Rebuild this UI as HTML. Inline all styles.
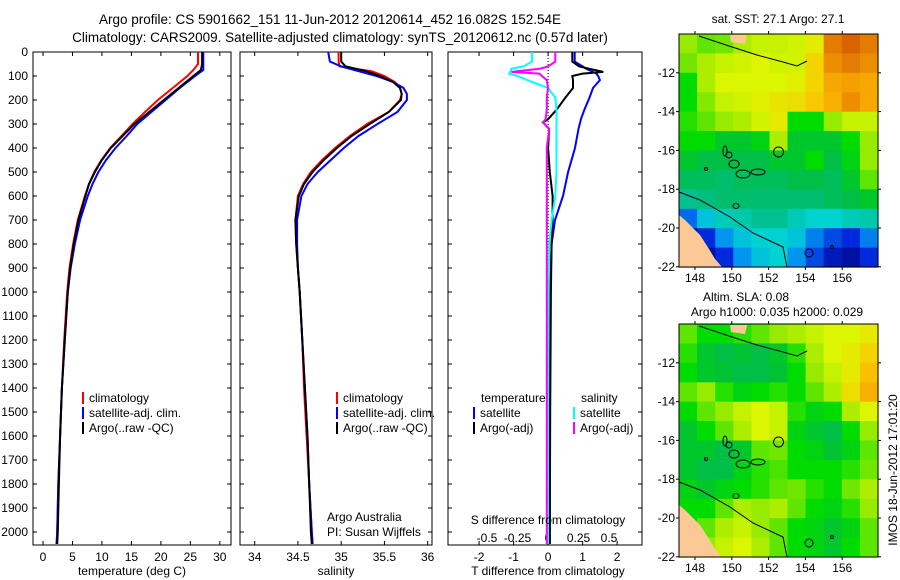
<!DOCTYPE html>
<html><head><meta charset="utf-8"><style>
body{margin:0;background:#fff}
svg{display:block;font-family:"Liberation Sans",sans-serif}
</style></head><body>
<svg id="s" width="900" height="580" viewBox="0 0 900 580" xmlns="http://www.w3.org/2000/svg">
<text x="330" y="24" font-size="13.5" text-anchor="middle">Argo profile: CS 5901662_151 11-Jun-2012 20120614_452 16.082S 152.54E</text>
<text x="340" y="42" font-size="13.5" text-anchor="middle">Climatology: CARS2009. Satellite-adjusted climatology: synTS_20120612.nc (0.57d later)</text>
<text x="778" y="23" font-size="12" text-anchor="middle">sat. SST: 27.1 Argo: 27.1</text>
<text x="746" y="301" font-size="12" text-anchor="middle">Altim. SLA: 0.08</text>
<text x="777" y="316" font-size="12" text-anchor="middle">Argo h1000: 0.035 h2000: 0.029</text>
<text transform="translate(897,470) rotate(-90)" font-size="12" text-anchor="middle">IMOS 18-Jun-2012 17:01:20</text>
<g id="g"></g>
</svg>
<script>
// ---- data ----
const depthT = [0,50,75,100,150,200,250,300,350,400,450,500,550,600,700,800,900,1000,1200,1400,1600,1800,2000,2050];
const argoT = [27,27,26.8,25.5,23,20.5,18,15.5,13.5,11.5,10,8.8,7.8,7.2,6.0,5.2,4.6,4.2,3.7,3.2,2.9,2.7,2.5,2.4];
const climT = [26.3,26.3,25.5,24.5,22,19.5,17.3,15.2,13.3,11.4,9.9,8.7,7.8,7.1,5.9,5.1,4.5,4.1,3.6,3.2,2.9,2.6,2.4,2.3];
const satT = [27.2,27.2,27.2,25.8,23.2,20.8,18.4,16,14.2,12.3,10.7,9.4,8.4,7.6,6.3,5.4,4.7,4.2,3.7,3.2,2.9,2.6,2.4,2.3];
const depthS = [0,40,60,80,100,125,150,175,200,250,300,350,400,450,500,550,600,700,800,900,1000,1200,1400,1600,1800,2000,2050];
const argoS = [35.0,35.0,35.05,35.29,35.45,35.6,35.68,35.7,35.69,35.55,35.33,35.12,34.95,34.8,34.67,34.57,34.51,34.47,34.48,34.5,34.52,34.55,34.58,34.61,34.63,34.65,34.66];
const climS = [34.97,34.97,34.98,35.35,35.5,35.62,35.68,35.7,35.68,35.55,35.3,35.1,34.93,34.78,34.65,34.56,34.5,34.47,34.48,34.5,34.52,34.55,34.57,34.6,34.63,34.66,34.67];
const satS = [34.85,34.87,35.0,35.2,35.41,35.6,35.72,35.76,35.76,35.65,35.42,35.2,35.03,34.88,34.73,34.61,34.54,34.49,34.49,34.5,34.52,34.55,34.58,34.61,34.63,34.66,34.67];
const depthD = [0,40,60,70,83,90,100,117,150,190,240,280,293,320,400,500,600,700,800,1000,1500,2050];
const satTd = [0.77,0.77,1.0,1.1,1.3,1.4,1.45,1.5,1.3,1.2,1.05,0.95,0.93,0.88,0.78,0.58,0.43,0.2,0.1,0.06,0.05,0.05];
const argoTd = [0.7,0.7,0.9,1.2,1.6,1.0,0.7,0.72,0.72,0.5,0.25,0.0,-0.15,0.03,0.0,0.05,0.13,0.13,0.1,0.08,0.06,0.05];
const satSd = [-0.13,-0.13,-0.2,-0.3,-0.31,-0.32,-0.25,-0.17,0,0.06,0.07,0.07,0.07,0.07,0.07,0.07,0.06,0.03,0.01,0.005,0.0,0.0];
const argoSd = [0.06,0.06,0.0,-0.07,-0.3,-0.07,-0.05,-0.01,0,-0.01,-0.01,-0.02,-0.04,0.01,-0.01,-0.01,-0.01,-0.01,-0.01,-0.01,-0.01,-0.01];
const depthTicks = [0,100,200,300,400,500,600,700,800,900,1000,1100,1200,1300,1400,1500,1600,1700,1800,1900,2000];
const tTicks = [0,5,10,15,20,25,30];
const sTicks = [34,34.5,35,35.5,36];
const sTickLabels = ["34","34.5","35","35.5","36"];
const dTTicks = [-2,-1,0,1,2];
const dSTicks = [-0.5,-0.25,0,0.25,0.5];
const lonTicks = [148,150,152,154,156];
const latTicks = [-12,-14,-16,-18,-20,-22];
const sstGrid = [
[.58,.55,.56,.6,.62,.62,.63,.66,.88,.92,.88],
[.56,.6,.62,.63,.64,.63,.63,.7,.85,.88,.85],
[.5,.6,.64,.64,.64,.64,.65,.7,.8,.82,.8],
[.5,.57,.62,.63,.65,.67,.68,.72,.78,.85,.8],
[.52,.55,.58,.6,.63,.66,.5,.5,.58,.62,.62],
[.5,.5,.45,.45,.48,.6,.45,.45,.45,.5,.58],
[.45,.42,.42,.42,.42,.45,.45,.5,.42,.48,.58],
[.4,.4,.38,.4,.4,.4,.42,.42,.4,.45,.55],
[.35,.36,.38,.38,.38,.38,.38,.38,.4,.42,.45],
[.18,.28,.32,.33,.35,.35,.32,.3,.3,.32,.33],
[.05,.12,.22,.28,.3,.3,.28,.2,.15,.12,.2],
[.02,.05,.12,.22,.28,.3,.22,.15,.08,.05,.12]];
const slaGrid = [
[.55,.5,.5,.52,.55,.58,.6,.62,.64,.64,.66],
[.52,.45,.42,.44,.42,.45,.52,.6,.64,.66,.7],
[.5,.45,.44,.42,.42,.44,.5,.58,.62,.66,.74],
[.55,.58,.52,.48,.5,.52,.5,.55,.6,.68,.78],
[.5,.55,.58,.62,.64,.62,.52,.48,.5,.6,.64],
[.45,.5,.55,.6,.64,.62,.48,.45,.42,.5,.58],
[.45,.45,.42,.45,.55,.56,.5,.48,.44,.48,.55],
[.45,.42,.42,.48,.52,.54,.5,.5,.5,.52,.56],
[.48,.45,.48,.5,.52,.55,.56,.52,.5,.56,.6],
[.5,.5,.55,.6,.58,.6,.55,.5,.48,.52,.58],
[.5,.55,.6,.62,.58,.55,.5,.48,.45,.48,.55],
[.52,.58,.62,.64,.6,.55,.5,.48,.45,.5,.55]];

const NS="http://www.w3.org/2000/svg";
const G=document.getElementById('g');
function mk(tag,attrs,parent){const e=document.createElementNS(NS,tag);for(const k in attrs)e.setAttribute(k,attrs[k]);(parent||G).appendChild(e);return e;}
function txt(x,y,s,anchor,size){const t=mk('text',{x:x,y:y,'font-size':size||12,'text-anchor':anchor||'start'});t.textContent=s;return t;}

const TOP=52, PXD=0.24;
const yD=d=>TOP+d*PXD;
const BOT=545;
const panels=[
 {x0:33,x1:231,v0:-1.7,v1:31.9,name:'temperature-panel'},
 {x0:240,x1:432,v0:33.83,v1:36.05,name:'salinity-panel'},
 {x0:448,x1:642,v0:-2.9,v1:2.72,name:'difference-panel'}];
function sx(p,v){return p.x0+(v-p.v0)/(p.v1-p.v0)*(p.x1-p.x0);}
const sS0=548, sSk=122; // secondary S-diff axis
const xSd=v=>sS0+v*sSk;

panels.forEach((p,i)=>{
 const r=mk('rect',{x:p.x0,y:TOP,width:p.x1-p.x0,height:BOT-TOP,fill:'none',stroke:'#000','stroke-width':1});
 
 
 depthTicks.forEach(d=>{
  mk('line',{x1:p.x0,x2:p.x0+4,y1:yD(d),y2:yD(d),stroke:'#000'});
  mk('line',{x1:p.x1-4,x2:p.x1,y1:yD(d),y2:yD(d),stroke:'#000'});
 });
});
depthTicks.forEach(d=>{const t=txt(28,yD(d)+4,String(d),'end',12);
 
 });
function xticks(p,vals,labels,fx){vals.forEach((v,i)=>{const x=fx(v);
 mk('line',{x1:x,x2:x,y1:BOT-4,y2:BOT,stroke:'#000'});
 mk('line',{x1:x,x2:x,y1:TOP,y2:TOP+4,stroke:'#000'});
 const t=txt(x,561,labels[i],'middle',12);
 
 });}
xticks(panels[0],tTicks,tTicks.map(String),v=>sx(panels[0],v));
xticks(panels[1],sTicks,sTickLabels,v=>sx(panels[1],v));
xticks(panels[2],dTTicks,dTTicks.map(String),v=>sx(panels[2],v));
dSTicks.forEach(v=>{const t=txt(xSd(v),542,String(v),'middle',12);
 
 });

mk('line',{x1:sx(panels[2],0),x2:sx(panels[2],0),y1:TOP,y2:BOT,stroke:'#000','stroke-dasharray':'1,2'});

function line(xs,ds,fx,color,name,w){
 const pts=xs.map((v,i)=>fx(v).toFixed(1)+','+yD(ds[i]).toFixed(1)).join(' ');
 const e=mk('polyline',{points:pts,fill:'none',stroke:color,'stroke-width':w||2,'stroke-linejoin':'miter'});
 
 
}
const fT=v=>sx(panels[0],v), fS=v=>sx(panels[1],v), fD=v=>sx(panels[2],v);
line(climT,depthT,fT,'#f00','climatology-temperature-line');
line(satT,depthT,fT,'#00f','satellite-temperature-line');
line(argoT,depthT,fT,'#000','argo-temperature-line');
line(climS,depthS,fS,'#f00','climatology-salinity-line');
line(satS,depthS,fS,'#00f','satellite-salinity-line');
line(argoS,depthS,fS,'#000','argo-salinity-line');
line(satTd,depthD,fD,'#00f','satellite-tdiff-line');
line(argoTd,depthD,fD,'#000','argo-tdiff-line');
line(satSd,depthD,xSd,'#0ff','satellite-sdiff-line');
line(argoSd,depthD,xSd,'#f0f','argo-sdiff-line');

function leg(x,y,c,s,name){mk('rect',{x:x,y:y-10,width:2,height:12,fill:c});
 const t=txt(x+7,y,s,'start',12);
 
 }
leg(82,402,'#f00','climatology','legend-climatology');
leg(82,417,'#00f','satellite-adj. clim.','legend-satellite');
leg(82,432,'#000','Argo(..raw -QC)','legend-argo');
leg(336,402,'#f00','climatology','legend2-climatology');
leg(336,417,'#00f','satellite-adj. clim.','legend2-satellite');
leg(336,432,'#000','Argo(..raw -QC)','legend2-argo');
txt(481,402,'temperature');txt(581,402,'salinity');
leg(473,417,'#00f','satellite','legend-t-satellite');
leg(473,432,'#000','Argo(-adj)','legend-t-argo');
leg(573,417,'#0ff','satellite','legend-s-satellite');
leg(573,432,'#f0f','Argo(-adj)','legend-s-argo');
txt(327,521,'Argo Australia');txt(327,536,'PI: Susan Wijffels');
txt(548,524,'S difference from climatology','middle',12);
txt(132,575,'temperature (deg C)','middle',12);
txt(336,575,'salinity','middle',12);
txt(548,575,'T difference from climatology','middle',12);

const stops=[[0,[0,0,120]],[.12,[0,40,220]],[.22,[0,150,240]],[.3,[0,210,210]],[.36,[0,190,130]],[.43,[0,190,60]],[.5,[0,220,0]],[.58,[150,235,0]],[.64,[220,245,0]],[.72,[250,200,0]],[.82,[245,160,0]],[.92,[215,100,0]],[1,[200,80,0]]];
function cmap(v){for(let i=1;i<stops.length;i++){if(v<=stops[i][0]){const a=stops[i-1],b=stops[i],t=(v-a[0])/(b[0]-a[0]);return 'rgb('+a[1].map((c,k)=>Math.round(c+(b[1][k]-c)*t)).join(',')+')';}}return 'rgb(200,80,0)';}
function map(oy,grid,name){
 const X0=679,X1=878,Y0=34+oy,Y1=267+oy;
 const lonX=l=>X0+(l-147.13)*18.4, latY=la=>Y0+(-10-la)*19.4;
 const g=mk('g',{});
 
 
 const cw=(X1-X0)/grid[0].length, ch=(Y1-Y0)/grid.length;
 grid.forEach((row,r)=>row.forEach((v,c)=>{mk('rect',{x:(X0+c*cw).toFixed(1),y:(Y0+r*ch).toFixed(1),width:(cw+0.6).toFixed(1),height:(ch+0.6).toFixed(1),fill:cmap(v)},g);}));
 mk('polygon',{points:`${X0},${Y0+181} ${X0+6},${Y0+186} ${X0+21},${Y0+201} ${X0+30},${Y0+215} ${X0+36},${Y0+225} ${X0+43},${Y1} ${X0},${Y1}`,fill:'#fcc896'},g);
 mk('polygon',{points:`${X0+51},${Y0+1} ${X0+68},${Y0+1} ${X0+66},${Y0+10} ${X0+52},${Y0+8}`,fill:'#fcc896'},g);
 mk('polyline',{points:`${X0},${Y0+158} ${X0+21},${Y0+166} ${X0+51},${Y0+183} ${X0+74},${Y0+199} ${X0+104},${Y0+213} ${X0+108},${Y1}`,fill:'none',stroke:'#000','stroke-width':1},g);
 mk('polyline',{points:`${X0+20},${Y0+2} ${X0+50},${Y0+12} ${X0+78},${Y0+21} ${X0+104},${Y0+28} ${X0+118},${Y0+32} ${X0+128},${Y0+27}`,fill:'none',stroke:'#000','stroke-width':1},g);
 [[46,117,2,5],[50,121,3,3],[55,130,5,4],[64,140,7,4],[79,138,7,3],[27,135,1.5,1.5],[57,172,3,2.5],[130,219,4,4],[153,213,1.5,1.5]].forEach(e=>mk('ellipse',{cx:X0+e[0],cy:Y0+e[1],rx:e[2],ry:e[3],fill:'none',stroke:'#000','stroke-width':1},g));
 mk('circle',{cx:lonX(152.54),cy:latY(-16.082),r:5,fill:'none',stroke:'#000','stroke-width':1},g);
 mk('rect',{x:X0,y:Y0,width:X1-X0,height:Y1-Y0,fill:'none',stroke:'#000'},g);
 latTicks.forEach(la=>{const y=latY(la);mk('line',{x1:X0-3,x2:X0,y1:y,y2:y,stroke:'#000'},g);mk('line',{x1:X1,x2:X1+3,y1:y,y2:y,stroke:'#000'},g);
  const t=txt(X0-4,y+4,String(la),'end',12);});
 lonTicks.forEach(l=>{const x=lonX(l);mk('line',{x1:x,x2:x,y1:Y1,y2:Y1+3,stroke:'#000'},g);mk('line',{x1:x,x2:x,y1:Y0-3,y2:Y0,stroke:'#000'},g);
  const t=txt(x,Y1+15,String(l),'middle',12);});
}
map(0,sstGrid,'sst-map');
map(290,slaGrid,'sla-map');
</script>
</body></html>
